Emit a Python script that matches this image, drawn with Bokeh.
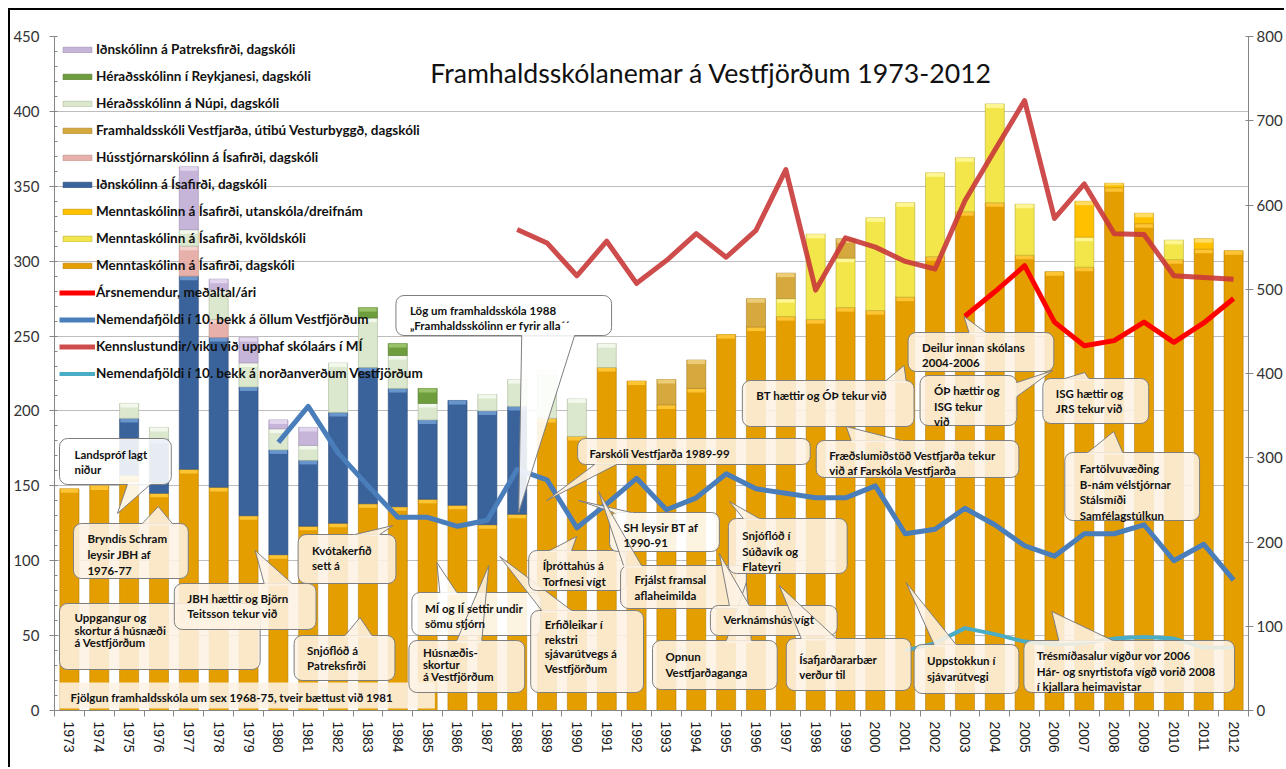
import numpy as np
from bokeh.plotting import figure
from bokeh.models import (Range1d, LinearAxis, FixedTicker, SingleIntervalTicker,
                          ColumnDataSource, Legend, LegendItem)
from bokeh.core.properties import value
from bokeh.embed import file_html
from bokeh.resources import INLINE

# ---------------- data ----------------
years = list(range(1973, 2013))

mi_dag = [148, 150, 157, 145, 161, 149, 130, 104, 123, 125, 138, 136, 141, 137, 124, 131,
          195, 183, 229, 220, 204, 215, 251, 256, 263, 261, 269, 267, 276, 303, 333, 339,
          304, 293, 296, 349, 325, 301, 308, 307]
mi_kvold = [0, 0, 0, 0, 0, 0, 0, 0, 0, 0, 0, 0, 0, 0, 0, 0,
            0, 0, 0, 0, 0, 0, 0, 0, 12, 57, 33, 62, 63, 56, 36, 66,
            34, 0, 20, 0, 0, 13, 0, 0]
mi_utan = [0, 0, 0, 0, 0, 0, 0, 0, 0, 0, 0, 0, 0, 0, 0, 0,
           0, 0, 0, 0, 0, 0, 0, 0, 0, 0, 0, 0, 0, 0, 0, 0,
           0, 0, 24, 3, 7, 0, 7, 0]
idn_isa = [0, 0, 38, 36, 129, 100, 86, 70, 44, 74, 91, 79, 53, 70, 76, 72,
           0, 0, 0, 0, 0, 0, 0, 0, 0, 0, 0, 0, 0, 0, 0, 0,
           0, 0, 0, 0, 0, 0, 0, 0]
huss = [0, 0, 0, 0, 20, 12, 0, 0, 0, 0, 0, 0, 0, 0, 0, 0,
        0, 0, 0, 0, 0, 0, 0, 0, 0, 0, 0, 0, 0, 0, 0, 0,
        0, 0, 0, 0, 0, 0, 0, 0]
fv_utibu = [0, 0, 0, 0, 0, 0, 0, 0, 0, 0, 0, 0, 0, 0, 0, 0,
            0, 0, 0, 0, 17, 19, 0, 19, 17, 0, 13, 0, 0, 0, 0, 0,
            0, 0, 0, 0, 0, 0, 0, 0]
nupi = [0, 0, 10, 8, 11, 20, 16, 14, 10, 33, 33, 22, 11, 0, 11, 18,
        32, 25, 16, 0, 0, 0, 0, 0, 0, 0, 0, 0, 0, 0, 0, 0,
        0, 0, 0, 0, 0, 0, 0, 0]
reyk = [0, 0, 0, 0, 0, 0, 0, 0, 0, 0, 7, 8, 10, 0, 0, 0,
        0, 0, 0, 0, 0, 0, 0, 0, 0, 0, 0, 0, 0, 0, 0, 0,
        0, 0, 0, 0, 0, 0, 0, 0]
patr = [0, 0, 0, 0, 42, 7, 17, 6, 12, 0, 0, 0, 0, 0, 0, 0,
        0, 0, 0, 0, 0, 0, 0, 0, 0, 0, 0, 0, 0, 0, 0, 0,
        0, 0, 0, 0, 0, 0, 0, 0]

# lines (None = no data)
kennsla = [None] * 15 + [571, 555, 516, 557, 507, 534, 566, 538, 570, 642, 499, 561, 550,
                         533, 524, 605, 665, 724, 584, 625, 566, 565, 516, 514, 512]
arsnem = [None] * 30 + [468, 497, 528, 461, 433, 439, 461, 437, 460, 489]
nem10 = [None] * 7 + [179, 203, 172, 150, 129, 129, 123, 127, 161, 154, 122, 138, 155, 134,
                      142, 158, 148, 145, 142, 142, 150, 118, 121, 135, 124, 110, 103, 118,
                      118, 124, 100, 111, 87]
nem10_n = [None] * 28 + [40, 45, 55, 51, 46, 44, 45, 48, 49, 48, 42, 42]

title = "Framhaldsskólanemar á Vestfjörðum 1973-2012"

# ---------------- figure ----------------
N = len(years)
xc = np.arange(N) + 0.5

p = figure(width=1276, height=759, output_backend="svg", toolbar_location=None,
           x_range=Range1d(0, N), y_range=Range1d(0, 450),
           min_border_left=42, min_border_right=38, min_border_top=26, min_border_bottom=59,
           background_fill_color="white", border_fill_color="white")
p.styles = {"margin-left": "8px", "margin-top": "8px",
            "border-top": "2px solid #000", "border-left": "2px solid #000"}
p.extra_y_ranges = {"right": Range1d(0, 800)}
p.outline_line_color = None

# page pixel -> data helpers (annotation layout only)
def X(px):
    return (px - 52) / 29.9


def Y(py):
    return (710 - py) / 1.4978

# axes
ax = p.xaxis[0]
ax.ticker = FixedTicker(ticks=list(xc), minor_ticks=list(np.arange(N + 1)))
ax.major_label_overrides = {float(c): str(y) for c, y in zip(xc, years)}
ax.major_label_orientation = "vertical"
ax.major_tick_line_color = None
ax.major_tick_out = 6
ax.major_tick_in = 0
ax.minor_tick_out = 6
ax.minor_tick_in = 0
ax.minor_tick_line_color = "#868686"
ax.axis_line_color = "#868686"
ax.major_label_standoff = 5
ax.major_label_text_font = "Liberation Sans"
ax.major_label_text_font_size = "14px"
ax.major_label_text_color = "#1a1a1a"

ly = p.yaxis[0]
ly.ticker = SingleIntervalTicker(interval=50, num_minor_ticks=5)
ly.axis_line_color = "#868686"
ly.major_tick_line_color = "#868686"
ly.minor_tick_line_color = "#868686"
ly.major_tick_out = 5
ly.major_tick_in = 0
ly.minor_tick_out = 0
ly.minor_tick_in = 3
ly.major_label_standoff = 10
ly.major_label_text_font = "Lato"
ly.major_label_text_font_size = "15px"
ly.major_label_text_color = "#333333"

ry = LinearAxis(y_range_name="right", ticker=SingleIntervalTicker(interval=100, num_minor_ticks=0))
ry.axis_line_color = "#868686"
ry.major_tick_line_color = "#868686"
ry.major_tick_out = 5
ry.major_tick_in = 3
ry.major_label_standoff = 3
ry.major_label_text_font = "Lato"
ry.major_label_text_font_size = "15px"
ry.major_label_text_color = "#333333"
p.add_layout(ry, "right")

p.xgrid.grid_line_color = None
p.ygrid.grid_line_color = "#BDBDBD"
p.ygrid.grid_line_width = 1
p.ygrid.ticker = SingleIntervalTicker(interval=50)

# ---------------- stacked bars ----------------
series = [
    ("Menntaskólinn á Ísafirði, dagskóli", mi_dag, "#E59E00", "#FFC83A", "#B07800"),
    ("Menntaskólinn á Ísafirði, kvöldskóli", mi_kvold, "#F2E64A", "#FFF79A", "#B5AA2C"),
    ("Menntaskólinn á Ísafirði, utanskóla/dreifnám", mi_utan, "#FFC000", "#FFE070", "#C08F00"),
    ("Iðnskólinn á Ísafirði, dagskóli", idn_isa, "#3A639C", "#6F9AD3", "#2A4A76"),
    ("Hússtjórnarskólinn á Ísafirði, dagskóli", huss, "#E8B0AA", "#F7D6D2", "#B8887F"),
    ("Framhaldsskóli Vestfjarða, útibú Vesturbyggð, dagskóli", fv_utibu, "#D6A93E", "#EECF7C", "#A37D25"),
    ("Héraðsskólinn á Núpi, dagskóli", nupi, "#DCE8CE", "#F5F9EF", "#A6B696"),
    ("Héraðsskólinn í Reykjanesi, dagskóli", reyk, "#6E9D3D", "#9DC56B", "#4C7226"),
    ("Iðnskólinn á Patreksfirði, dagskóli", patr, "#C6B4D9", "#E3D9EF", "#9686AA"),
]

bar_w = 0.64
bottom = np.zeros(N)
bar_renderers = {}
for name, vals, col, cap, edge in series:
    v = np.array(vals, dtype=float)
    top = bottom + v
    m = v > 0
    capb = np.maximum(top - np.minimum(2.7, v * 0.45), bottom)
    src = ColumnDataSource(dict(x=xc[m], bottom=bottom[m], top=top[m], capb=capb[m]))
    r = p.vbar(x="x", bottom="bottom", top="top", width=bar_w, source=src,
               fill_color=col, line_color=edge, line_width=0.8, line_alpha=0.7)
    p.vbar(x="x", bottom="capb", top="top", width=bar_w * 0.92, source=src,
           fill_color=cap, line_color=None, fill_alpha=0.9)
    bar_renderers[name] = r
    bottom = top

# ---------------- lines ----------------
def line_src(vals):
    xs = [c for c, v in zip(xc, vals) if v is not None]
    ys = [v for v in vals if v is not None]
    return xs, ys

xs, ys = line_src(nem10)
r_nem10 = p.line(xs, ys, line_color="#4A7EBB", line_width=5, line_join="round")
xs, ys = line_src(nem10_n)
r_nem10n = p.line(xs, ys, line_color="#4BACC6", line_width=4, line_join="round")
xs, ys = line_src(kennsla)
r_kenn = p.line(xs, ys, y_range_name="right", line_color="#C93838", line_width=5,
                line_alpha=0.9, line_join="round")
xs, ys = line_src(arsnem)
r_ars = p.line(xs, ys, y_range_name="right", line_color="#FF0000", line_width=5,
               line_join="round")

# ---------------- callouts ----------------
callouts = [
    dict(box=(57, 438, 169, 484), fill="w", ptr=((115, 513), (125, 484), (148, 484)), tx=72, ty=454, dy=15, lines=["Landspróf lagt", "niður"]),
    dict(box=(71, 523, 186, 578), fill="c", ptr=((156, 506), (140, 523), (170, 523)), tx=85, ty=538, dy=16, lines=["Bryndís Schram", "leysir JBH af", "1976-77"]),
    dict(box=(57, 603, 258, 669), fill="c", ptr=None, tx=72, ty=617, dy=12.5, lines=["Uppgangur og", "skortur á húsnæði", "á Vestfjörðum"]),
    dict(box=(172, 583, 314, 629), fill="c", ptr=((253, 550), (262, 583), (290, 583)), tx=185, ty=598, dy=15, lines=["JBH hættir og Björn", "Teitsson tekur við"]),
    dict(box=(296, 534, 394, 583), fill="c", ptr=((391, 525), (353, 534), (378, 534)), tx=310, ty=550, dy=15, lines=["Kvótakerfið", "sett á"]),
    dict(box=(292, 635, 393, 680), fill="c", ptr=((358, 617), (343, 635), (370, 635)), tx=305, ty=650, dy=15, lines=["Snjóflóð á", "Patreksfirði"]),
    dict(box=(410, 592, 539, 635), fill="w", ptr=((435, 562), (438, 592), (455, 592)), tx=423, ty=608, dy=15, lines=["MÍ og IÍ settir undir", "sömu stjórn"]),
    dict(box=(407, 640, 523, 692), fill="c", ptr=((487, 565), (455, 640), (480, 640)), tx=421, ty=652, dy=12, lines=["Húsnæðis-", "skortur", "á Vestfjörðum"]),
    dict(box=(529, 610, 642, 692), fill="c", ptr=((498, 556), (540, 610), (570, 610)), tx=543, ty=624, dy=14.5, lines=["Erfiðleikar í", "rekstri", "sjávarútvegs á", "Vestfjörðum"]),
    dict(box=(527, 550, 625, 590), fill="c", ptr=((575, 536), (548, 550), (570, 550)), tx=541, ty=565, dy=16, lines=["Íþróttahús á", "Torfnesi vígt"]),
    dict(box=(576, 438, 809, 464), fill="c", ptr=((545, 500), (593, 464), (615, 464)), tx=588, ty=453, dy=0, lines=["Farskóli Vestfjarða 1989-99"]),
    dict(box=(608, 512, 718, 551), fill="w", ptr=((577, 500), (612, 512), (630, 512)), tx=622, ty=527, dy=15, lines=["SH leysir BT af", "1990-91"]),
    dict(box=(619, 565, 745, 608), fill="c", ptr=((597, 491), (622, 565), (640, 565)), tx=633, ty=579, dy=16, lines=["Frjálst framsal", "aflaheimilda"]),
    dict(box=(651, 640, 776, 689), fill="c", ptr=((745, 582), (725, 640), (750, 640)), tx=664, ty=656, dy=15.5, lines=["Opnun", "Vestfjarðaganga"]),
    dict(box=(709, 605, 836, 635), fill="c", ptr=((718, 553), (728, 605), (748, 605)), tx=722, ty=619, dy=0, lines=["Verknámshús vígt"]),
    dict(box=(727, 518, 846, 573), fill="c", ptr=((728, 501), (742, 518), (758, 518)), tx=741, ty=535, dy=15.5, lines=["Snjóflóð í", "Súðavík og", "Flateyri"]),
    dict(box=(785, 638, 910, 690), fill="c", ptr=((778, 585), (800, 638), (835, 638)), tx=798, ty=659, dy=15, lines=["Ísafjarðararbær", "verður til"]),
    dict(box=(913, 644, 1018, 693), fill="c", ptr=((905, 582), (933, 644), (955, 644)), tx=926, ty=660, dy=15.5, lines=["Uppstokkun í", "sjávarútvegi"]),
    dict(box=(1023, 640, 1234, 692), fill="c", ptr=((1051, 611), (1058, 640), (1112, 640)), tx=1036, ty=655, dy=15.5, lines=["Trésmíðasalur  vígður vor 2006", "Hár- og snyrtistofa vígð vorið 2008", "í kjallara heimavistar"]),
    dict(box=(1064, 452, 1199, 520), fill="c", ptr=((1113, 431), (1087, 452), (1122, 452)), tx=1079, ty=468, dy=15.7, lines=["Fartölvuvæðing", "B-nám vélstjórnar", "Stálsmíði", "Samfélagstúlkun"]),
    dict(box=(1042, 378, 1148, 423), fill="c", ptr=((1084, 372), (1064, 378), (1088, 378)), tx=1055, ty=393, dy=15, lines=["ISG hættir og", "JRS tekur við"]),
    dict(box=(907, 332, 1053, 371), fill="c", ptr=((963, 316), (968, 332), (985, 332)), tx=921, ty=347, dy=15, lines=["Deilur innan skólans", "2004-2006"]),
    dict(box=(919, 375, 1016, 425), fill="c", ptr=((1052, 370), (1016, 382), (1016, 396)), tx=933, ty=390, dy=15.5, lines=["ÓÞ hættir og", "ISG tekur", "við"]),
    dict(box=(741, 380, 913, 426), fill="c", ptr=((903, 365), (885, 380), (905, 380)), tx=755, ty=395, dy=0, lines=["BT hættir og ÓÞ tekur við"]),
    dict(box=(815, 440, 1018, 477), fill="c", ptr=((845, 426), (850, 440), (900, 440)), tx=828, ty=455, dy=15, lines=["Fræðslumiðstöð Vestfjarða tekur", "við af Farskóla Vestfjarða"]),
    dict(box=(394, 295, 610, 335), fill="w", ptr=((517, 512), (520, 335), (573, 335)), tx=408, ty=310, dy=15, lines=["Lög um framhaldsskóla 1988", "„Framhaldsskólinn er  fyrir alla´´"]),
]

FILL = {"c": "#FDF3E4", "w": "#FFFFFF"}
EDGE = "#7F7F7F"

# plain banner (no border)
p.quad(left=[X(57)], right=[X(433)], top=[Y(682)], bottom=[Y(708)],
       fill_color="#FDF3E4", fill_alpha=0.88, line_color=None)

for c in callouts:
    l, t, r, b = c["box"]
    fc = FILL[c["fill"]]
    p.quad(left=[X(l)], right=[X(r)], top=[Y(t)], bottom=[Y(b)], border_radius=8,
           fill_color=fc, fill_alpha=0.88, line_color=EDGE, line_width=1)
    if c["ptr"] is not None:
        tip, b1, b2 = c["ptr"]
        ext = []
        for bp in (b1, b2):
            d = np.array(bp, float) - np.array(tip, float)
            d = d / np.hypot(*d)
            ext.append(np.array(bp, float) + 2.5 * d)
        px = [tip[0], ext[0][0], ext[1][0]]
        py = [tip[1], ext[0][1], ext[1][1]]
        p.patch([X(v) for v in px], [Y(v) for v in py], fill_color=fc, fill_alpha=0.88,
                line_color=None)
        p.multi_line(xs=[[X(b1[0]), X(tip[0]), X(b2[0])]],
                     ys=[[Y(b1[1]), Y(tip[1]), Y(b2[1])]],
                     line_color=EDGE, line_width=1)

# texts
tx, ty, tt = [X(68)], [Y(697)], ["Fjölgun framhaldsskóla um sex 1968-75, tveir bættust við 1981"]
for c in callouts:
    for i, line in enumerate(c["lines"]):
        tx.append(X(c["tx"]))
        ty.append(Y(c["ty"] + i * c["dy"]))
        tt.append(line)
p.text(x=tx, y=ty, text=tt, text_font=value("Lato"), text_font_style="bold",
       text_font_size="11.5px", text_baseline="middle", text_align="left", text_color="#111111")

p.text(x=[X(710)], y=[Y(72)], text=[title], text_font=value("Lato"), text_font_size="26.7px",
       text_baseline="middle", text_align="center", text_color="#111111")

# ---------------- legend ----------------
items = [LegendItem(label=name, renderers=[bar_renderers[name]]) for name, *_ in reversed(series)]
items += [
    LegendItem(label="Ársnemendur, meðaltal/ári", renderers=[r_ars]),
    LegendItem(label="Nemendafjöldi í 10. bekk á öllum Vestfjörðum", renderers=[r_nem10]),
    LegendItem(label="Kennslustundir/viku við upphaf skólaárs í MÍ", renderers=[r_kenn]),
    LegendItem(label="Nemendafjöldi í 10. bekk á norðanverðum Vestfjörðum", renderers=[r_nem10n]),
]
leg = Legend(items=items, location="top_left", margin=5, padding=12, spacing=11,
             glyph_width=36, glyph_height=7, label_height=16, label_standoff=1,
             label_text_font="Lato", label_text_font_style="bold", label_text_font_size="13.5px",
             label_text_color="#111111", border_line_color=None, background_fill_alpha=0)
p.add_layout(leg, "center")

open("out.html", "w").write(file_html(p, INLINE))
